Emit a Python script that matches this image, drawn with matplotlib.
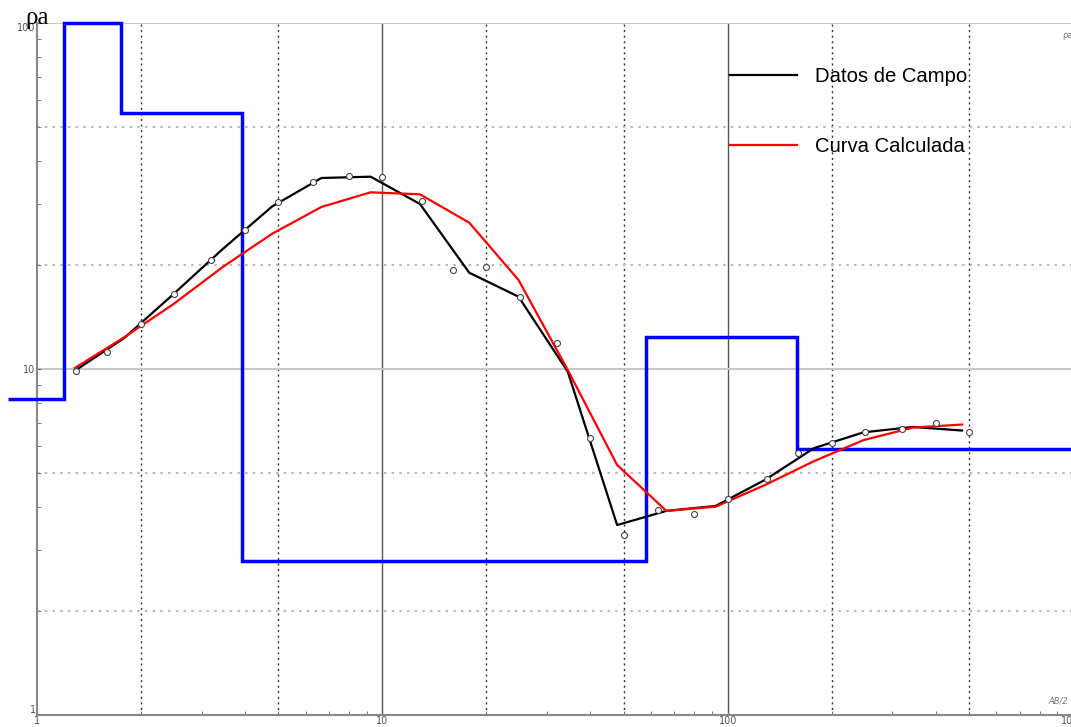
import numpy as np
import matplotlib.pyplot as plt
from matplotlib.ticker import LogLocator, NullFormatter

# field data (AB/2, apparent resistivity)
ab2 = [1.3, 1.6, 2, 2.5, 3.2, 4, 5, 6.3, 8, 10, 13, 16, 20, 25, 32, 40, 50,
       63, 80, 100, 130, 160, 200, 250, 320, 400, 500]
rho_obs = [9.89, 11.18, 13.47, 16.44, 20.65, 25.22, 30.32, 34.78, 36.13, 35.96,
           30.64, 19.33, 19.68, 16.12, 11.87, 6.31, 3.31, 3.90, 3.80, 4.21,
           4.80, 5.71, 6.10, 6.56, 6.71, 7.00, 6.56]

# curves sampled at 7 points per decade
ab2_curve = [1.288, 1.789, 2.485, 3.452, 4.795, 6.661, 9.252, 12.85, 17.85,
             24.80, 34.44, 47.85, 66.46, 92.31, 128.2, 178.1, 247.4, 343.7, 477.4]
rho_campo = [9.89, 12.29, 16.47, 22.23, 29.49, 35.65, 35.96, 29.99, 18.98,
             16.18, 9.82, 3.54, 3.89, 4.02, 4.78, 5.91, 6.56, 6.80, 6.64]
rho_calc = [10.07, 12.35, 15.41, 19.72, 24.6, 29.39, 32.41, 31.98, 26.48,
            18.08, 9.93, 5.28, 3.89, 4.00, 4.62, 5.42, 6.23, 6.77, 6.91]

# layered model
layer_edges = [0.824, 1.197, 1.751, 3.92, 58.0, 158.8, 1000]
layer_rho = [8.19, 100, 54.9, 2.79, 12.37, 5.87]

xticks = [1, 10, 100, 1000]
xlabels = ['1', '10', '100', '1000']
yticks = [1, 10, 100]
ylabels = ['1', '10', '100']

fig = plt.figure(figsize=(10.71, 7.27), dpi=100)
ax = fig.add_axes([37/1071, 12/727, 1036/1071, 692/727])
ax.set_xscale('log')
ax.set_yscale('log')
ax.set_xlim(1, 1000)
ax.set_ylim(1, 100)

# grid
for d in [1, 10, 100]:
    for m in [2, 5]:
        ax.axvline(m*d, color='#333333', lw=1, ls=(0, (1.5, 2.5)), zorder=0)
for d in [10, 100]:
    ax.axvline(d, color='#555555', lw=1, zorder=0)
for d in [1, 10]:
    for m in [2, 5]:
        ax.axhline(m*d, color='#bbbbbb', lw=1.5, ls=(0, (1.2, 2.5)), zorder=0)
for d in [10, 100]:
    ax.axhline(d, color='#c8c8c8', lw=1.5, zorder=0)

for s in ['top', 'right']:
    ax.spines[s].set_visible(False)
for s in ['left', 'bottom']:
    ax.spines[s].set_color('#888888')
    ax.spines[s].set_linewidth(1.5)

ax.set_xticks(xticks, labels=xlabels)
ax.set_yticks(yticks, labels=ylabels)
ax.xaxis.set_minor_locator(LogLocator(base=10, subs=np.arange(2, 10)))
ax.yaxis.set_minor_locator(LogLocator(base=10, subs=np.arange(2, 10)))
ax.xaxis.set_minor_formatter(NullFormatter())
ax.yaxis.set_minor_formatter(NullFormatter())
ax.tick_params(which='major', length=3, direction='in', color='#666666',
               labelsize=7, labelcolor='#555555', pad=1)
ax.tick_params(which='minor', length=3, direction='in', color='#666666')
ylab = ax.get_yticklabels()
ylab[0].set_va('bottom')
ylab[-1].set_va('top')

ax.stairs(layer_rho, layer_edges, baseline=None, color='#0000ff', lw=2.5,
          clip_on=False, zorder=3)
ax.plot(ab2_curve, rho_campo, color='black', lw=1.6, zorder=4, label='Datos de Campo')
ax.plot(ab2_curve, rho_calc, color='#ff0000', lw=1.6, zorder=5, label='Curva Calculada')
ax.plot(ab2, rho_obs, ls='none', marker='o', ms=4.3, mfc='white', mec='#444444',
        mew=0.8, zorder=6)

ax.legend(loc='upper left', bbox_to_anchor=(730/1071, 1 - 67/727),
          bbox_transform=fig.transFigure, frameon=False, borderpad=0,
          borderaxespad=0, handlelength=3.3, handletextpad=0.9,
          labelspacing=2.5, prop={'family': 'Liberation Sans', 'size': 14.6})

fig.text(25/1071, 1 - 24/727, 'ρa', family='Liberation Serif', fontsize=18,
         va='baseline', ha='left')
fig.text(1062/1071, 1 - 38/727, 'ρa', fontsize=6, color='#777777', ha='left')
fig.text(1048/1071, 1 - 704/727, 'AB/2', fontsize=6, color='#777777',
         style='italic', ha='left')

fig.savefig('out.png', dpi=100)
